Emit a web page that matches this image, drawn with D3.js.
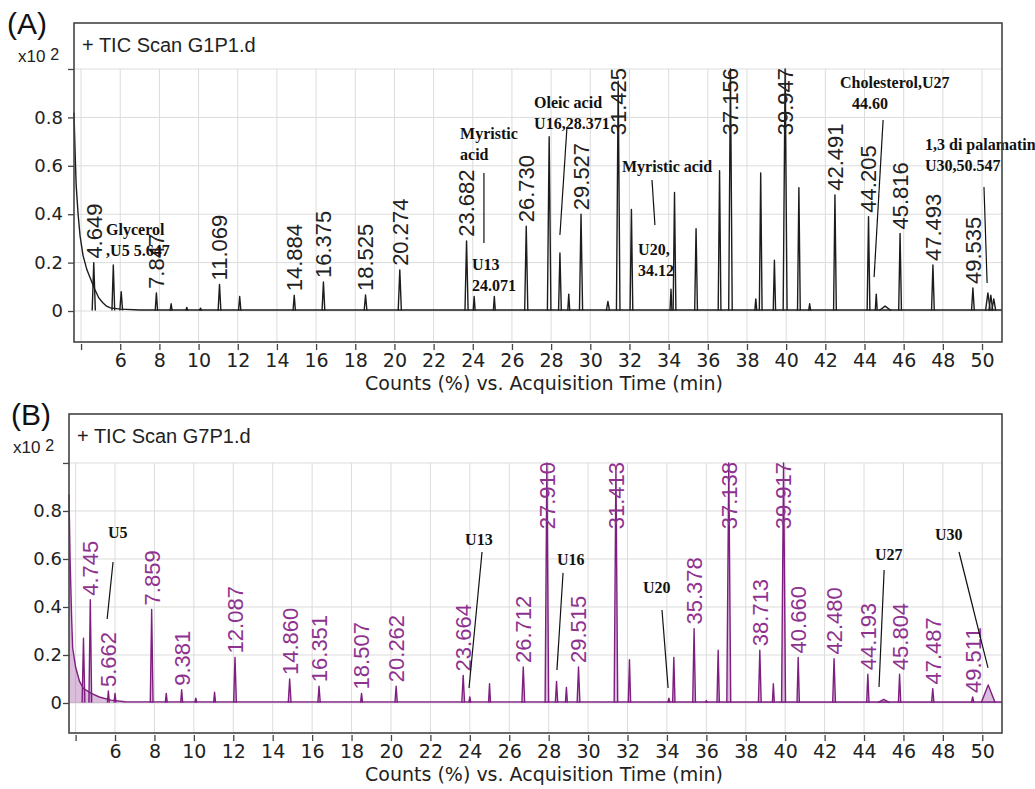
<!DOCTYPE html>
<html>
<head>
<meta charset="utf-8">
<script src="https://cdn.jsdelivr.net/npm/d3@7"></script>
<style>
  html, body { margin: 0; padding: 0; background: #fff; }
  svg { display: block; }
</style>
</head>
<body>
<svg id="chart" width="1035" height="789"></svg>
<script>
// ---- Panel A : TIC Scan G1P1.d ----
const rtA = [4.649, 5.647, 6.05, 7.847, 8.6, 9.4, 10.1, 11.069, 12.1, 14.884, 16.375, 18.525, 20.274,
  23.682, 24.071, 25.1, 26.730, 27.9, 28.45, 28.9, 29.527, 30.9, 31.425, 32.1, 34.12, 34.3,
  35.4, 36.6, 37.156, 38.45, 38.7, 39.4, 39.947, 40.65, 41.2, 42.491, 44.205, 44.6, 45.05,
  45.816, 47.493, 49.535, 50.3, 50.45, 50.6];
const abundA = [0.20, 0.19, 0.08, 0.075, 0.03, 0.015, 0.012, 0.11, 0.06, 0.065, 0.12, 0.066, 0.17,
  0.29, 0.06, 0.06, 0.35, 0.72, 0.24, 0.07, 0.40, 0.04, 0.95, 0.42, 0.09, 0.49,
  0.34, 0.58, 1.0, 0.05, 0.57, 0.21, 1.0, 0.51, 0.03, 0.48, 0.39, 0.07, 0.02,
  0.32, 0.19, 0.095, 0.075, 0.065, 0.05];
const widthA = [0.08, 0.07, 0.07, 0.06, 0.05, 0.05, 0.05, 0.07, 0.06, 0.06, 0.07, 0.07, 0.08,
  0.08, 0.05, 0.05, 0.08, 0.09, 0.07, 0.05, 0.08, 0.08, 0.09, 0.07, 0.05, 0.07,
  0.07, 0.07, 0.09, 0.05, 0.07, 0.06, 0.1, 0.07, 0.05, 0.07, 0.07, 0.05, 0.3,
  0.07, 0.07, 0.07, 0.12, 0.1, 0.1];
const tagA = ["4.649", "", "", "7.847", "", "", "", "11.069", "", "14.884", "16.375", "18.525", "20.274",
  "23.682", "", "", "26.730", "", "", "", "29.527", "", "31.425", "", "", "",
  "", "", "37.156", "", "", "", "39.947", "", "", "42.491", "44.205", "", "",
  "45.816", "47.493", "49.535", "", "", ""];
const solventTimeA = [3.64, 3.68, 3.75, 3.85, 3.95, 4.1, 4.3, 4.5, 4.7, 4.9, 5.1, 5.3, 5.5, 6.0, 7.0, 51.02];
const solventAbundA = [0.82, 0.70, 0.52, 0.40, 0.31, 0.23, 0.17, 0.13, 0.09, 0.055, 0.035, 0.02, 0.013, 0.008, 0.004, 0.004];

// compound notes on panel A: text lines, anchor (time, abundance), leader line
const noteTextA = [["Glycerol", ",U5 5.647"], ["Myristic", "acid"], ["U13", "24.071"],
  ["Oleic acid", "U16,28.371"], ["Myristic acid"], ["U20,", "34.12"],
  ["Cholesterol,U27", "   44.60"], ["1,3 di palamatin", "U30,50.547"]];
const noteAtA = [[5.28, 0.314], [23.35, 0.711], [23.96, 0.169], [27.13, 0.839], [31.62, 0.574],
  [32.44, 0.231], [42.75, 0.921], [47.09, 0.665]];
const leaderA = [null, [24.57, 0.570, 24.57, 0.281], null, [28.81, 0.760, 28.45, 0.314],
  [33.15, 0.541, 33.30, 0.355], null, [44.95, 0.789, 44.49, 0.140], [50.10, 0.512, 50.26, 0.116]];

// ---- Panel B : TIC Scan G7P1.d ----
const rtB = [4.4, 4.745, 5.662, 6.0, 7.859, 8.6, 9.381, 10.1, 11.05, 12.087, 14.860, 16.351, 18.507,
  20.262, 23.664, 24.0, 25.0, 26.712, 27.910, 28.4, 28.9, 29.515, 31.413, 32.1, 34.1, 34.35,
  35.378, 36.0, 36.6, 37.138, 38.713, 39.4, 39.917, 40.660, 42.480, 44.193, 45.0, 45.804,
  47.487, 49.511, 50.3];
const abundB = [0.27, 0.43, 0.05, 0.04, 0.39, 0.04, 0.055, 0.02, 0.045, 0.19, 0.10, 0.07, 0.04,
  0.07, 0.115, 0.025, 0.08, 0.15, 1.0, 0.09, 0.065, 0.15, 0.98, 0.18, 0.02, 0.19,
  0.31, 0.01, 0.22, 1.0, 0.22, 0.08, 1.0, 0.19, 0.185, 0.12, 0.015, 0.12,
  0.06, 0.025, 0.075];
const widthB = [0.07, 0.07, 0.05, 0.05, 0.07, 0.05, 0.05, 0.05, 0.05, 0.07, 0.07, 0.06, 0.05,
  0.06, 0.07, 0.05, 0.05, 0.07, 0.09, 0.06, 0.05, 0.07, 0.09, 0.06, 0.05, 0.06,
  0.07, 0.05, 0.06, 0.1, 0.07, 0.05, 0.1, 0.06, 0.07, 0.06, 0.3, 0.06,
  0.06, 0.06, 0.35];
const tagB = ["", "4.745", "5.662", "", "7.859", "", "9.381", "", "", "12.087", "14.860", "16.351", "18.507",
  "20.262", "23.664", "", "", "26.712", "27.910", "", "", "29.515", "31.413", "", "", "",
  "35.378", "", "", "37.138", "38.713", "", "39.917", "40.660", "42.480", "44.193", "", "45.804",
  "47.487", "49.511", ""];
const solventTimeB = [3.665, 3.72, 3.8, 3.85, 4.0, 4.2, 4.4, 4.8, 5.2, 5.8, 6.5, 51.0];
const solventAbundB = [0.87, 0.60, 0.35, 0.23, 0.15, 0.09, 0.06, 0.04, 0.025, 0.012, 0.005, 0.004];

const noteTextB = [["U5"], ["U13"], ["U16"], ["U20"], ["U27"], ["U30"]];
const noteAtB = [[5.64, 0.6875], [23.76, 0.658], [28.42, 0.575], [32.79, 0.458], [44.56, 0.596], [47.6, 0.679]];
const leaderB = [[5.90, 0.5875, 5.60, 0.35], [24.62, 0.629, 23.96, 0.0625], [28.73, 0.542, 28.42, 0.1375],
  [33.75, 0.3875, 34.06, 0.0625], [45.02, 0.554, 44.76, 0.067], [48.82, 0.629, 50.29, 0.146]];

// axis ticks
const timeTicks = d3.range(4, 51, 2);
const abundTicks = [0, 0.2, 0.4, 0.6, 0.8, 1.0];

const svg = d3.select("#chart");
const sansFont = "'Liberation Sans', Arial, sans-serif";
const axisFont = "'DejaVu Sans', Verdana, sans-serif";
const serifFont = "'Liberation Serif', 'Times New Roman', serif";

function drawPanel(cfg) {
  const x = d3.scaleLinear().domain(cfg.xDomain).range([cfg.left, cfg.right]);
  const y = d3.scaleLinear().domain(cfg.yDomain).range([cfg.bottom, cfg.top]);
  const g = svg.append("g");

  // panel letter and header
  g.append("text").attr("x", cfg.letterX).attr("y", cfg.top + 11)
    .attr("font-family", sansFont).attr("font-size", 30).attr("fill", "#111").text(cfg.letter);
  const mult = g.append("text").attr("x", cfg.left - 56).attr("y", cfg.top + 39)
    .attr("font-family", sansFont).attr("font-size", 17).attr("fill", "#222");
  mult.append("tspan").text("x10 ");
  mult.append("tspan").attr("dy", -2).attr("font-size", 16).text("2");

  // grid
  const grid = g.append("g").attr("stroke", "#dcdcdc").attr("stroke-width", 1);
  grid.selectAll("line.v").data(timeTicks).join("line").attr("class", "v")
    .attr("x1", d => x(d)).attr("x2", d => x(d)).attr("y1", y(1.0)).attr("y2", cfg.bottom);
  grid.selectAll("line.h").data(abundTicks).join("line").attr("class", "h")
    .attr("x1", cfg.left).attr("x2", cfg.right).attr("y1", d => y(d)).attr("y2", d => y(d));

  g.append("text").attr("x", cfg.left + 8).attr("y", cfg.top + 29)
    .attr("font-family", sansFont).attr("font-size", 20).attr("fill", "#222").text(cfg.title);

  // axes
  const yAxis = d3.axisLeft(y).tickValues(abundTicks).tickSize(6).tickPadding(5)
    .tickFormat(d => d === 1 ? "" : (d === 0 ? "0" : d3.format(".1f")(d)));
  const ya = g.append("g").attr("transform", `translate(${cfg.left},0)`).call(yAxis);
  ya.select(".domain").remove();
  ya.selectAll("line").attr("stroke", "#444").attr("stroke-width", 1.3);
  ya.selectAll("text").attr("font-family", axisFont).attr("font-size", 18).attr("fill", "#222")
    .attr("dx", cfg.yLabelShift);

  const xAxis = d3.axisBottom(x).tickValues(timeTicks).tickSize(6).tickPadding(4)
    .tickFormat(d => d === 4 ? "" : d);
  const xa = g.append("g").attr("transform", `translate(0,${cfg.bottom + 2})`).call(xAxis);
  xa.select(".domain").remove();
  xa.selectAll("line").attr("stroke", "#444").attr("stroke-width", 1.3);
  xa.selectAll("text").attr("font-family", axisFont).attr("font-size", 19).attr("fill", "#222")
    .attr("dy", null).attr("y", cfg.tickBaseline);

  g.append("text").attr("x", 544).attr("y", cfg.bottom + cfg.titleBaseline).attr("text-anchor", "middle")
    .attr("font-family", axisFont).attr("font-size", 19).attr("fill", "#222")
    .text("Counts (%) vs. Acquisition Time (min)");

  // trace
  const plot = g.append("g");
  const line = d3.line().x(d => x(d[0])).y(d => y(d[1]));
  const area = d3.area().x(d => x(d[0])).y0(y(0)).y1(d => y(d[1]));
  const solvent = cfg.solventT.map((t, i) => [t, cfg.solventV[i]]);
  const peaks = cfg.rt.map((t, i) => [[t - cfg.w[i], 0.002], [t, cfg.h[i]], [t + cfg.w[i], 0.002]]);
  if (cfg.fill) {
    plot.append("path").attr("d", area(solvent)).attr("fill", cfg.fill);
    plot.selectAll("path.pf").data(peaks).join("path").attr("class", "pf")
      .attr("d", area).attr("fill", cfg.fill);
  }
  plot.append("path").attr("d", line(solvent)).attr("fill", "none")
    .attr("stroke", cfg.color).attr("stroke-width", 1.4);
  plot.selectAll("path.pk").data(peaks).join("path").attr("class", "pk")
    .attr("d", line).attr("fill", "none").attr("stroke", cfg.color)
    .attr("stroke-width", 1.4).attr("stroke-linejoin", "round");

  // retention-time labels, kept inside the 1.0 line
  const top = y(1.0) - 1;
  cfg.rt.forEach((t, i) => {
    if (!cfg.tag[i]) return;
    const lab = g.append("text").attr("font-family", sansFont).attr("font-size", 22)
      .attr("fill", cfg.labelColor).attr("dy", "0.36em").text(cfg.tag[i]);
    const len = lab.node().getComputedTextLength();
    let yb = y(cfg.h[i]) - 4;
    if (yb - len < top) yb = top + len;
    lab.attr("transform", `translate(${x(t)},${yb}) rotate(-90)`);
  });

  // compound notes
  cfg.notes.forEach((lines, i) => {
    const [nt, nv] = cfg.noteAt[i];
    const tx = g.append("text").attr("font-family", serifFont).attr("font-weight", "bold")
      .attr("font-size", 16).attr("fill", "#111");
    lines.forEach((s, k) => {
      tx.append("tspan").attr("x", x(nt)).attr("y", y(nv) + k * 21)
        .attr("xml:space", "preserve").style("white-space", "pre").text(s);
    });
    const ld = cfg.leader[i];
    if (ld) {
      g.append("line").attr("x1", x(ld[0])).attr("y1", y(ld[1])).attr("x2", x(ld[2])).attr("y2", y(ld[3]))
        .attr("stroke", "#111").attr("stroke-width", 1.2);
    }
  });

  // frame
  g.append("rect").attr("x", cfg.left).attr("y", cfg.top)
    .attr("width", cfg.right - cfg.left).attr("height", cfg.bottom - cfg.top)
    .attr("fill", "none").attr("stroke", "#444").attr("stroke-width", 1.6);
}

drawPanel({
  letter: "(A)", letterX: 7, title: "+ TIC Scan G1P1.d",
  left: 74, right: 1002, top: 23, bottom: 342, yLabelShift: 0,
  tickBaseline: 23, titleBaseline: 48,
  xDomain: [3.64, 51.02], yDomain: [-0.128, 1.19],
  rt: rtA, h: abundA, w: widthA, tag: tagA,
  solventT: solventTimeA, solventV: solventAbundA,
  color: "#1c1c1c", labelColor: "#222", fill: null,
  notes: noteTextA, noteAt: noteAtA, leader: leaderA
});

drawPanel({
  letter: "(B)", letterX: 11, title: "+ TIC Scan G7P1.d",
  left: 69, right: 1002, top: 414, bottom: 733, yLabelShift: 4,
  tickBaseline: 23, titleBaseline: 48,
  xDomain: [3.665, 51.0], yDomain: [-0.125, 1.204],
  rt: rtB, h: abundB, w: widthB, tag: tagB,
  solventT: solventTimeB, solventV: solventAbundB,
  color: "#7e1f80", labelColor: "#8e3290", fill: "rgba(150,70,155,0.35)",
  notes: noteTextB, noteAt: noteAtB, leader: leaderB
});
</script>
</body>
</html>
